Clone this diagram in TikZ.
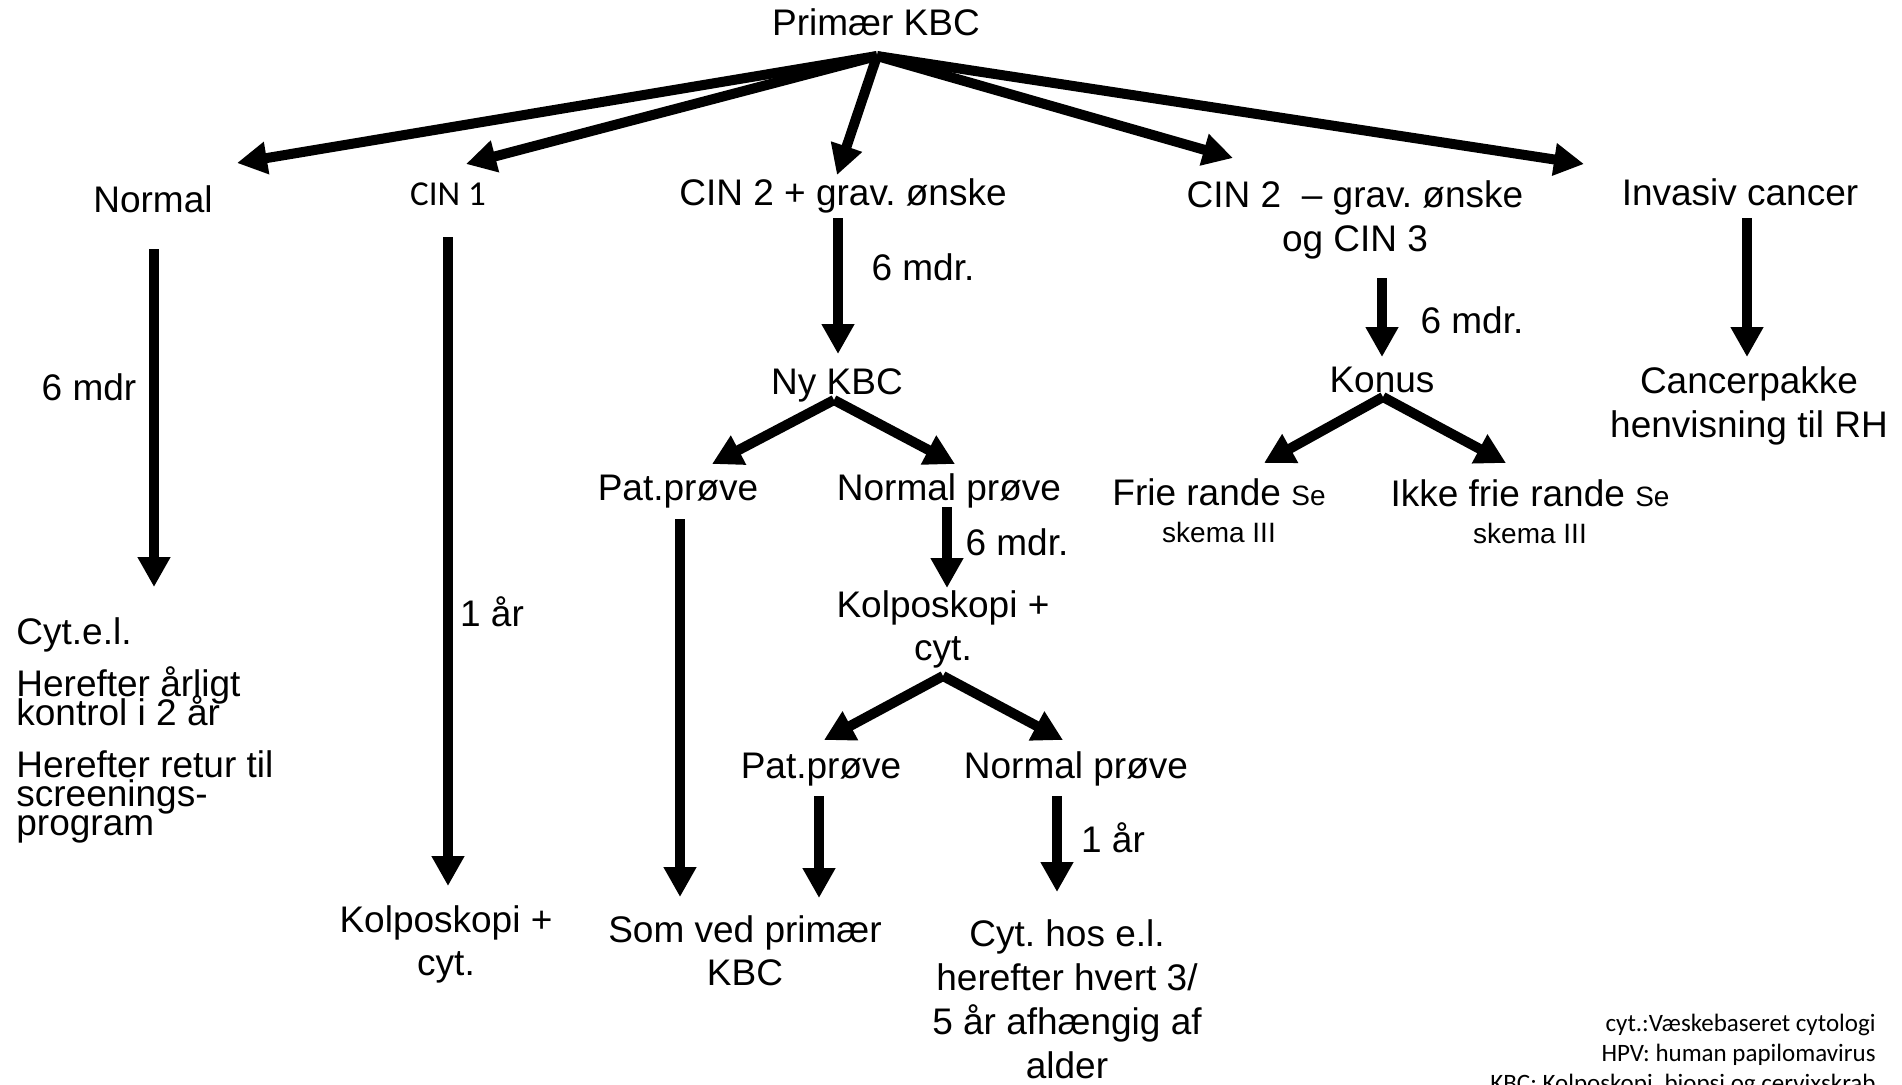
\documentclass[tikz,border=0pt]{standalone}
\usepackage{fontspec}
\setmainfont{Liberation Sans}
\newfontfamily\carlito{Carlito}
\usetikzlibrary{arrows.meta}
\frenchspacing
\tikzset{
  txt/.style={inner sep=0pt, anchor=base, align=center, font=\fontsize{18.5}{21.5}\selectfont},
  lefttxt/.style={inner sep=0pt, anchor=base west, align=left, font={\fontsize{18.5}{14.5}\selectfont\lineskiplimit=-100pt\lineskip=0pt}},
  arr/.style={line width=5pt, -{Triangle[width=15.5pt,length=15pt]}},
  note/.style={inner sep=0pt, anchor=base east, align=right, font=\carlito\fontsize{12.5}{15}\selectfont},
}
\newcommand{\smalltxt}[1]{{\fontsize{14}{18.5}\selectfont #1}}
\begin{document}
\frenchspacing
\begin{tikzpicture}[x=0.5pt,y=-0.5pt]
\fill[white] (0,0) rectangle (1902,1084);
\useasboundingbox (0,0) rectangle (1902,1084);

% ---- texts (multi-line nodes are placed by the baseline of their last line) ----
\node[txt] (prim) at (876,35) {Primær KBC};
\node[txt] (normal) at (153,212) {Normal};
\node[txt, font=\carlito\fontsize{17.5}{21}\selectfont] (cin1) at (448,205) {CIN 1};
\node[txt] (cin2p) at (843,205) {CIN 2 + grav. ønske};
\node[txt, font=\fontsize{18.5}{22}\selectfont] (cin2m) at (1355,251) {CIN 2\ \ – grav. ønske\\og CIN 3};
\node[txt] (inv) at (1740,205) {Invasiv cancer};

\node[txt] (lbla) at (89,400) {6 mdr};
\node[txt] (lblb) at (492,626) {1 år};
\node[lefttxt] (cytel) at (16,644) {Cyt.e.l.};
\node[lefttxt] (her1) at (16,725) {Herefter årligt\\kontrol i 2 år};
\node[lefttxt] (her2) at (16,835) {Herefter retur til\\screenings-\\program};
\node[txt] (kolp1) at (446,975) {Kolposkopi +\\cyt.};

\node[txt] (lblc) at (923,280) {6 mdr.};
\node[txt] (nykbc) at (837,394) {Ny KBC};
\node[txt] (pat1) at (678,500) {Pat.prøve};
\node[txt] (norm1) at (949,500) {Normal prøve};
\node[txt] (lbld) at (1017,555) {6 mdr.};
\node[txt] (kolp2) at (943,660) {Kolposkopi +\\cyt.};
\node[txt] (pat2) at (821,778) {Pat.prøve};
\node[txt] (norm2) at (1076,778) {Normal prøve};
\node[txt] (lble) at (1113,852) {1 år};
\node[txt] (somved) at (745,985) {Som ved primær\\KBC};
\node[txt, font=\fontsize{18.5}{22}\selectfont] (cythos) at (1067,1078) {Cyt. hos e.l.\\herefter hvert 3/\\5 år afhængig af\\alder};

\node[txt] (lblf) at (1472,333) {6 mdr.};
\node[txt] (konus) at (1382,392) {Konus};
\node[txt, font=\fontsize{18.5}{18.5}\selectfont] (frie) at (1219,542) {Frie rande \smalltxt{Se}\\\smalltxt{skema III}};
\node[txt, font=\fontsize{18.5}{18.5}\selectfont] (ikke) at (1530,543) {Ikke frie rande \smalltxt{Se}\\\smalltxt{skema III}};
\node[txt, font=\fontsize{18.5}{22}\selectfont] (canc) at (1749,437) {Cancerpakke\\henvisning til RH};

\node[note] (notes) at (1876,1091) {cyt.:Væskebaseret cytologi\\HPV: human papilomavirus\\KBC: Kolposkopi, biopsi og cervixskrab};

% ---- arrow end points ----
\coordinate (apex) at (877,56);
\coordinate (tnormal) at (237,163);
\coordinate (tcinone) at (466,164);
\coordinate (tcinp) at (837,175);
\coordinate (tcinm) at (1233,158);
\coordinate (tinv) at (1584,164);

\coordinate (snormal) at (154,249);  \coordinate (enormal) at (154,587);
\coordinate (scinone) at (448,237);  \coordinate (ecinone) at (448,886);
\coordinate (scinp) at (838,218);    \coordinate (ecinp) at (838,354);
\coordinate (forka) at (834,400);
\coordinate (fal) at (712,464);      \coordinate (far) at (955,464);
\coordinate (spat) at (680,519);     \coordinate (epat) at (680,897);
\coordinate (snorm) at (947,507);    \coordinate (enorm) at (947,588);
\coordinate (forkb) at (943,676);
\coordinate (fbl) at (824,740);      \coordinate (fbr) at (1063,740);
\coordinate (spatb) at (819,796);    \coordinate (epatb) at (819,898);
\coordinate (snormb) at (1057,796);  \coordinate (enormb) at (1057,892);
\coordinate (scinm) at (1382,278);   \coordinate (ecinm) at (1382,357);
\coordinate (forkc) at (1383,397);
\coordinate (fcl) at (1264,463);     \coordinate (fcr) at (1506,463);
\coordinate (sinv) at (1747,218);    \coordinate (einv) at (1747,357);

% ---- arrows ----
\draw[arr] (apex) -- (tnormal);
\draw[arr] (apex) -- (tcinone);
\draw[arr] (apex) -- (tcinp);
\draw[arr] (apex) -- (tcinm);
\draw[arr] (apex) -- (tinv);

\draw[arr] (snormal) -- (enormal);
\draw[arr] (scinone) -- (ecinone);
\draw[arr] (scinp) -- (ecinp);
\draw[arr] (forka) -- (fal);
\draw[arr] (forka) -- (far);
\draw[arr] (spat) -- (epat);
\draw[arr] (snorm) -- (enorm);
\draw[arr] (forkb) -- (fbl);
\draw[arr] (forkb) -- (fbr);
\draw[arr] (spatb) -- (epatb);
\draw[arr] (snormb) -- (enormb);
\draw[arr] (scinm) -- (ecinm);
\draw[arr] (forkc) -- (fcl);
\draw[arr] (forkc) -- (fcr);
\draw[arr] (sinv) -- (einv);
\end{tikzpicture}
\end{document}
